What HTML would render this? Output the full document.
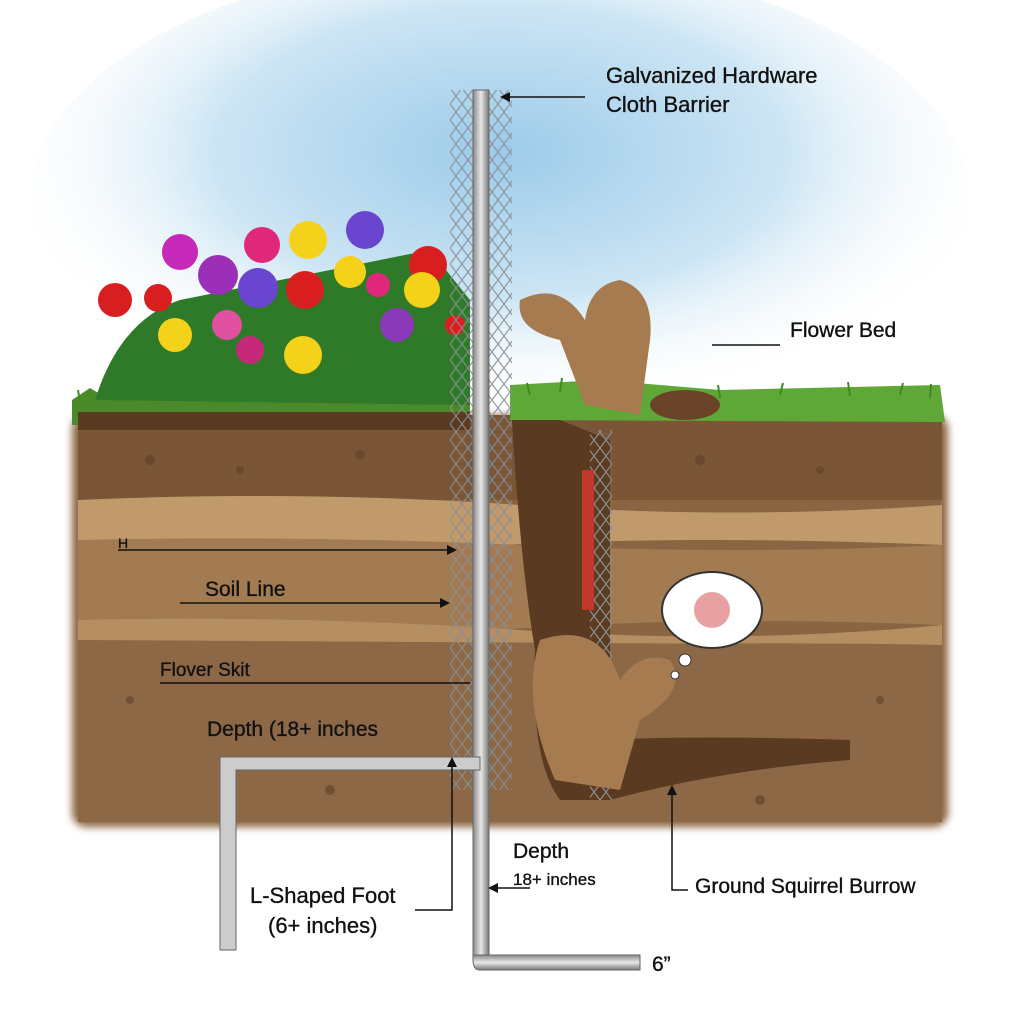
<!DOCTYPE html>
<html><head><meta charset="utf-8"><style>
html,body{margin:0;padding:0;background:#fff}
svg{display:block}
text{font-family:"Liberation Sans",sans-serif;fill:#111;stroke:#111;stroke-width:0.35px}
</style></head><body>
<svg width="1024" height="1024" viewBox="0 0 1024 1024" xmlns="http://www.w3.org/2000/svg">
<defs>
<radialGradient id="sky" cx="0.5" cy="0.4" r="0.55">
<stop offset="0" stop-color="#9ccbea"/><stop offset="0.55" stop-color="#cce5f4"/><stop offset="1" stop-color="#fff" stop-opacity="0"/>
</radialGradient>
<pattern id="mesh" width="12" height="16" patternUnits="userSpaceOnUse">
<path d="M0 0 L12 16 M12 0 L0 16" stroke="#8a8f95" stroke-width="1.2"/>
</pattern>
<linearGradient id="pole" x1="0" x2="1"><stop offset="0" stop-color="#888"/><stop offset="0.5" stop-color="#e8e8e8"/><stop offset="1" stop-color="#777"/></linearGradient>
<linearGradient id="poleh" x1="0" x2="0" y1="0" y2="1"><stop offset="0" stop-color="#888"/><stop offset="0.5" stop-color="#e8e8e8"/><stop offset="1" stop-color="#777"/></linearGradient>
<filter id="soft"><feGaussianBlur stdDeviation="4"/></filter>
</defs>
<rect width="1024" height="1024" fill="#fff"/>
<ellipse cx="500" cy="200" rx="470" ry="240" fill="url(#sky)"/>
<g filter="url(#soft)">
<rect x="72" y="415" width="876" height="412" rx="14" fill="#8a6543"/>
</g>
<rect x="78" y="415" width="864" height="85" fill="#7a5536"/>
<path d="M78 500 Q300 490 520 505 T942 505 L942 545 Q700 535 500 545 T78 540Z" fill="#c19a6c"/>
<path d="M78 540 Q300 535 520 545 T942 545 L942 625 Q700 615 500 630 T78 620Z" fill="#a27b52"/>
<path d="M78 620 Q300 615 520 630 T942 625 L942 645 Q700 640 500 650 T78 640Z" fill="#b58e62"/>
<path d="M78 640 L942 645 L942 822 L78 822Z" fill="#8d6846"/>
<g fill="#5e4028" opacity="0.6">
<circle cx="150" cy="460" r="5"/><circle cx="240" cy="470" r="4"/><circle cx="360" cy="455" r="5"/><circle cx="700" cy="460" r="5"/><circle cx="820" cy="470" r="4"/><circle cx="130" cy="700" r="4"/><circle cx="330" cy="790" r="5"/><circle cx="880" cy="700" r="4"/><circle cx="760" cy="800" r="5"/>
</g>
<!-- grass -->
<path d="M72 425 L72 400 L90 388 L110 400 L140 392 L470 395 L470 420 Z" fill="#4a8a2a"/>
<path d="M510 420 L510 385 L600 380 L720 390 L940 385 L945 422 Z" fill="#5fa838"/>
<g stroke="#3f8a22" stroke-width="2">
<path d="M530 395 l-3 -12 M560 392 l2 -14 M720 398 l-2 -13 M780 395 l3 -12 M850 396 l-2 -14 M900 395 l3 -12 M930 398 l1 -14 M80 402 l-2 -12 M100 398 l3 -12"/>
</g>
<rect x="78" y="412" width="392" height="18" fill="#5a3b22"/>
<!-- flowers -->
<path d="M95 400 Q120 320 180 300 L430 250 L470 300 L470 405 Z" fill="#2f7a28"/>
<g>
<circle cx="115" cy="300" r="17" fill="#d81e1e"/><circle cx="180" cy="252" r="18" fill="#c628b8"/>
<circle cx="158" cy="298" r="14" fill="#d81e1e"/><circle cx="218" cy="275" r="20" fill="#9b2fb8"/>
<circle cx="262" cy="245" r="18" fill="#e0287a"/><circle cx="258" cy="288" r="20" fill="#6a45d0"/>
<circle cx="308" cy="240" r="19" fill="#f5d21a"/><circle cx="305" cy="290" r="19" fill="#d81e1e"/>
<circle cx="350" cy="272" r="16" fill="#f5d21a"/><circle cx="365" cy="230" r="19" fill="#6a45d0"/>
<circle cx="378" cy="285" r="12" fill="#e0287a"/><circle cx="428" cy="265" r="19" fill="#d81e1e"/>
<circle cx="422" cy="290" r="18" fill="#f5d21a"/><circle cx="397" cy="325" r="17" fill="#8a3ab8"/>
<circle cx="175" cy="335" r="17" fill="#f5d21a"/><circle cx="227" cy="325" r="15" fill="#e050a0"/>
<circle cx="250" cy="350" r="14" fill="#c6287a"/><circle cx="303" cy="355" r="19" fill="#f5d21a"/>
<circle cx="455" cy="325" r="10" fill="#d81e1e"/>
</g>
<!-- burrow -->
<path d="M512 420 L560 420 L610 440 L610 800 L560 800 Q530 760 535 650 Q520 560 512 420Z" fill="#5a3a20"/>
<path d="M600 740 Q700 735 850 740 L850 760 Q720 770 610 800Z" fill="#5a3a20"/>
<!-- mesh -->
<rect x="450" y="90" width="62" height="700" fill="url(#mesh)" opacity="0.9"/>
<rect x="590" y="430" width="22" height="370" fill="url(#mesh)"/>
<!-- poles -->
<rect x="473" y="90" width="16" height="870" fill="url(#pole)" stroke="#666"/>
<path d="M473 955 L640 955 L640 970 L480 970 Q473 970 473 960Z" fill="url(#poleh)" stroke="#666"/>
<path d="M220 757 L480 757 L480 770 L236 770 L236 950 L220 950Z" fill="#ccc" stroke="#666"/>
<!-- squirrels -->
<g fill="#a57b4f">
<path d="M520 300 Q515 330 560 340 L585 405 L640 415 L650 340 Q655 290 620 280 Q590 285 585 320 Q560 280 520 300Z"/>
<ellipse cx="685" cy="405" rx="35" ry="15" fill="#6a4328"/>
<path d="M540 640 Q520 700 555 780 L620 790 L640 720 Q690 690 670 660 Q640 650 620 680 Q600 620 540 640Z"/>
</g>
<rect x="582" y="470" width="12" height="140" fill="#c0392b"/>
<!-- thought -->
<ellipse cx="712" cy="610" rx="50" ry="38" fill="#fff" stroke="#333" stroke-width="2"/>
<circle cx="685" cy="660" r="6" fill="#fff" stroke="#333"/><circle cx="675" cy="675" r="4" fill="#fff" stroke="#333"/>
<circle cx="712" cy="610" r="18" fill="#e9a0a0"/>
<!-- leader lines -->
<g stroke="#111" stroke-width="1.5" fill="none">
<path d="M585 97 L502 97"/><path d="M712 345 L780 345"/>
<path d="M118 550 L455 550"/><path d="M180 603 L448 603"/>
<path d="M160 683 L470 683"/><path d="M452 760 L452 910 L415 910"/>
<path d="M530 888 L490 888"/><path d="M688 890 L672 890 L672 790"/>
</g>
<g fill="#111">
<path d="M500 97 l10 -5 v10z"/><path d="M457 550 l-10 -5 v10z"/><path d="M450 603 l-10 -5 v10z"/>
<path d="M452 757 l-5 10 h10z"/><path d="M488 888 l10 -5 v10z"/><path d="M672 785 l-5 10 h10z"/>
</g>
<!-- labels -->
<text x="606" y="83" font-size="22">Galvanized Hardware</text>
<text x="606" y="112" font-size="22">Cloth Barrier</text>
<text x="790" y="337" font-size="21">Flower Bed</text>
<text x="118" y="548" font-size="14">H</text>
<text x="205" y="596" font-size="21">Soil Line</text>
<text x="160" y="676" font-size="19">Flover Skit</text>
<text x="207" y="736" font-size="21">Depth (18+ inches</text>
<text x="513" y="858" font-size="21">Depth</text>
<text x="513" y="885" font-size="17">18+ inches</text>
<text x="250" y="903" font-size="22">L-Shaped Foot</text>
<text x="268" y="933" font-size="22">(6+ inches)</text>
<text x="695" y="893" font-size="21">Ground Squirrel Burrow</text>
<text x="652" y="971" font-size="21">6”</text>
</svg>
</body></html>
